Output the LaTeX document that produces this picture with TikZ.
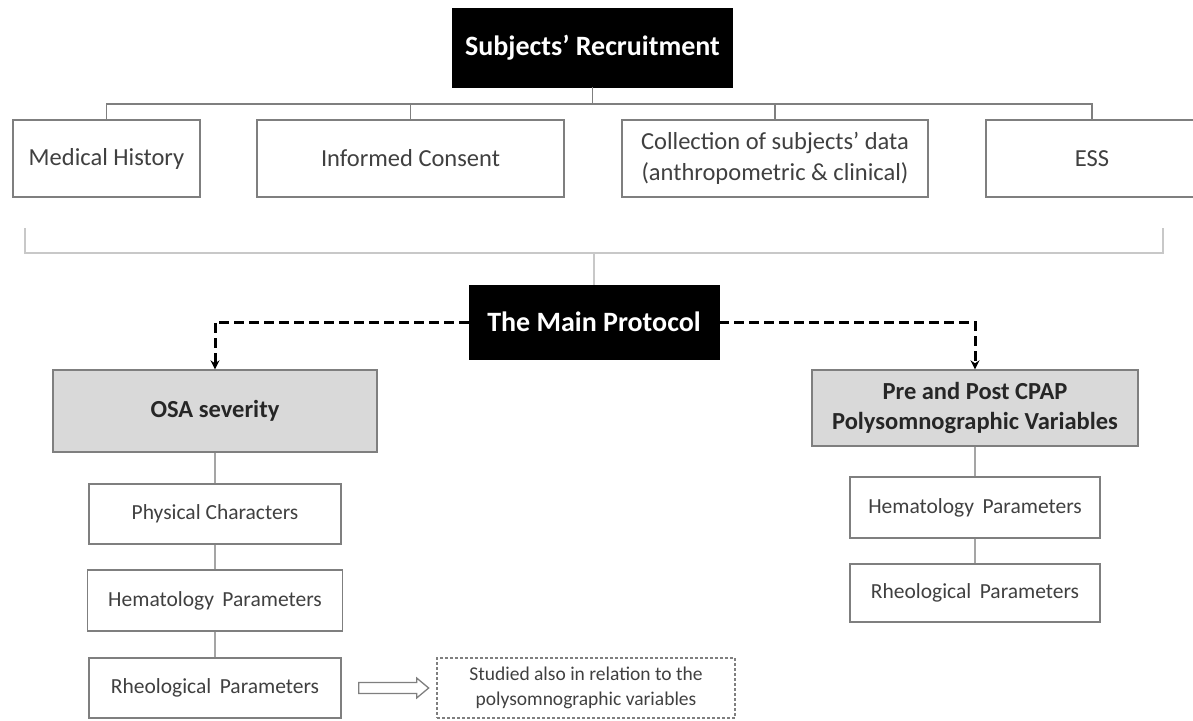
\documentclass[tikz,border=0pt]{standalone}
\usepackage{fontspec}
\setmainfont{Carlito}
\usetikzlibrary{arrows.meta,calc}
\definecolor{txt}{HTML}{404040}
\definecolor{bord}{HTML}{7F7F7F}
\definecolor{lgray}{HTML}{C8C8C8}
\definecolor{fillg}{HTML}{D9D9D9}
\tikzset{
  plain/.style={draw=bord, line width=1.3pt, fill=white, inner sep=0pt, text=txt, align=center},
  topbox/.style={plain, font=\fontsize{24.5}{31}\selectfont},
  subbox/.style={plain, font=\fontsize{21.5}{26}\selectfont},
  blackbox/.style={draw=black, fill=black, inner sep=0pt, text=white, font=\bfseries\fontsize{28}{33}\selectfont},
  greybox/.style={plain, fill=fillg, text=black!85, font=\bfseries\fontsize{24.5}{30}\selectfont},
  notebox/.style={draw=bord, dashed, dash pattern=on 3pt off 2pt, line width=1.2pt, inner sep=0pt, text=txt, align=center, font=\fontsize{19.5}{25}\selectfont},
  conn/.style={draw=bord, line width=1.3pt},
  lconn/.style={draw=bord!70, line width=1.3pt},
  bracket/.style={draw=lgray, line width=1.5pt},
  dashconn/.style={draw=black, line width=3pt, dash pattern=on 10pt off 5pt, -{Stealth[length=9pt,width=9pt]}},
  hollow/.style={draw=bord, line width=1.3pt, fill=white}
}
\begin{document}
\begin{tikzpicture}[x=1pt,y=-1pt]
\useasboundingbox (0,0) rectangle (1193,720);
% top
\node[blackbox, minimum width=280pt, minimum height=79pt] (sr) at (592.5,47.5) {Subjects’ Recruitment};
\node[topbox, minimum width=187pt, minimum height=77pt] (mh) at (106.5,158.5) {Medical History};
\node[topbox, minimum width=307pt, minimum height=77pt] (ic) at (410.5,158.5) {Informed Consent};
\node[topbox, minimum width=306pt, minimum height=77pt] (col) at (775,158.5) {Collection of subjects’ data\\(anthropometric \& clinical)};
\node[topbox, minimum width=212pt, minimum height=77pt] (ess) at (1092,158.5) {ESS};
\coordinate (bus) at (0,104);
\draw[conn] (mh.north) -- (mh.north |- bus) -- (ess.north |- bus) -- (ess.north);
\draw[conn] (ic.north) -- (ic.north |- bus);
\draw[conn] (col.north) -- (col.north |- bus);
\draw[conn] (sr.south) -- (sr.south |- bus);
% main protocol
\node[blackbox, minimum width=250pt, minimum height=74pt] (mp) at (594,322) {The Main Protocol};
\coordinate (bl) at (25,228);
\coordinate (br) at (1163,228);
\coordinate (bk) at (0,253);
\draw[bracket] (bl) -- (bl |- bk) -- (br |- bk) -- (br);
\draw[bracket] (mp.north) -- (mp.north |- bk);
% left branch
\node[greybox, minimum width=324pt, minimum height=82pt] (osa) at (215,411) {OSA severity};
\node[subbox, minimum width=252pt, minimum height=60pt] (pc) at (215,514) {Physical Characters};
\node[subbox, minimum width=255pt, minimum height=61pt] (hp1) at (215,600.5) {Hematology\, Parameters};
\node[subbox, minimum width=252pt, minimum height=60pt] (rp1) at (215,688) {Rheological\, Parameters};
\node[notebox, minimum width=298pt, minimum height=60pt] (note) at (586,688) {Studied also in relation to the\\polysomnographic variables};
% right branch
\node[greybox, minimum width=326pt, minimum height=76pt] (pre) at (975,408) {Pre and Post CPAP\\Polysomnographic Variables};
\node[subbox, minimum width=250pt, minimum height=61pt] (hp2) at (975,507.5) {Hematology\, Parameters};
\node[subbox, minimum width=250pt, minimum height=58pt] (rp2) at (975,593) {Rheological\, Parameters};
% dashed connectors
\draw[dashconn] (mp.west) -| (osa.north);
\draw[dashconn] (mp.east) -| (pre.north);
% solid connectors
\draw[lconn] (osa.south) -- (pc.north);
\draw[lconn] (pc.south) -- (hp1.north);
\draw[lconn] (hp1.south) -- (rp1.north);
\draw[lconn] (pre.south) -- (hp2.north);
\draw[lconn] (hp2.south) -- (rp2.north);
% hollow arrow
\draw[hollow] ($(rp1.east)+(17,-5.5)$) -- ++(58,0) -- ++(0,-4.5) -- ++(12,10) -- ++(-12,10) -- ++(0,-4.5) -- ++(-58,0) -- cycle;
\end{tikzpicture}
\end{document}
